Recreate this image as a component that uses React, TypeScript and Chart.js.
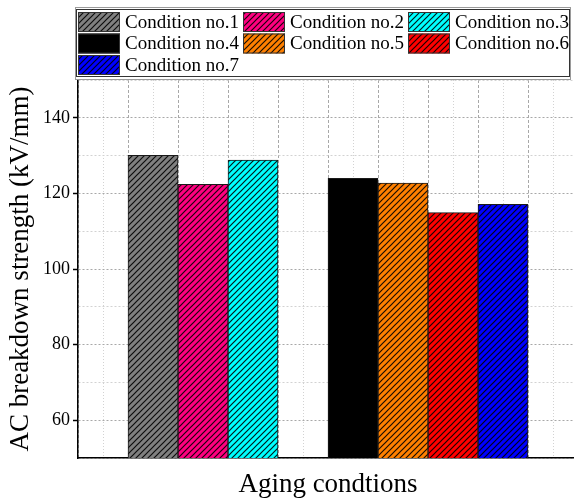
import React, { useEffect, useRef } from 'react';
import { Chart, registerables } from 'chart.js';

Chart.register(...registerables);

const categories = [
  'Condition no.1',
  'Condition no.2',
  'Condition no.3',
  'Condition no.4',
  'Condition no.5',
  'Condition no.6',
  'Condition no.7',
];
// slot index on the x axis (two groups with an empty slot between them)
const slotIndex = [1.5, 2.5, 3.5, 5.5, 6.5, 7.5, 8.5];
const strengthValues = [130.1, 122.4, 128.8, 124.0, 122.7, 114.9, 117.1];
const barColors = ['#808080', '#FF0080', '#00FFFF', '#000000', '#FF8000', '#FF0000', '#0000FF'];
const yTickLabels = [60, 80, 100, 120, 140];

const SERIF = "'Liberation Serif', 'Times New Roman', serif";

function makeHatch(color: string): CanvasPattern | string {
  const s = 6;
  const c = document.createElement('canvas');
  c.width = s;
  c.height = s;
  const g = c.getContext('2d');
  if (!g) return color;
  g.fillStyle = color;
  g.fillRect(0, 0, s, s);
  g.strokeStyle = 'rgba(0,0,0,0.9)';
  g.lineWidth = 1.2;
  g.beginPath();
  g.moveTo(0, s);
  g.lineTo(s, 0);
  g.moveTo(-1, 1);
  g.lineTo(1, -1);
  g.moveTo(s - 1, s + 1);
  g.lineTo(s + 1, s - 1);
  g.stroke();
  return g.createPattern(c, 'repeat') || color;
}

const gridLegend = {
  id: 'gridLegend',
  afterDraw(chart: any) {
    const ctx = chart.ctx as CanvasRenderingContext2D;
    ctx.save();
    // frame with light shadow
    ctx.strokeStyle = '#9a9a9a';
    ctx.lineWidth = 1;
    ctx.strokeRect(75.5, 7.5, 495, 72);
    ctx.strokeStyle = '#333';
    ctx.strokeRect(76.5, 9.5, 493, 67);
    chart.data.datasets.forEach((ds: any, i: number) => {
      const col = i % 3;
      const row = Math.floor(i / 3);
      const x = 78 + col * 165;
      const y = 12 + row * 21.5;
      ctx.fillStyle = ds.backgroundColor;
      ctx.fillRect(x, y, 42, 20);
      ctx.strokeStyle = '#333';
      ctx.lineWidth = 1;
      ctx.strokeRect(x + 0.5, y + 0.5, 41, 19);
      ctx.fillStyle = '#000';
      ctx.font = `19px ${SERIF}`;
      ctx.textBaseline = 'middle';
      ctx.textAlign = 'left';
      ctx.fillText(ds.label, x + 47, y + 11);
    });
    ctx.restore();
  },
};

export default function App() {
  const ref = useRef<HTMLCanvasElement | null>(null);

  useEffect(() => {
    if (!ref.current) return;
    const patterns = barColors.map((c) => makeHatch(c));
    const datasets = categories.map((label, i) => ({
      label,
      data: [{ x: slotIndex[i], y: strengthValues[i] }],
      backgroundColor: patterns[i] as any,
      borderColor: '#1a1a1a',
      borderWidth: 1,
      grouped: false,
      categoryPercentage: 1,
      barPercentage: 1,
    }));

    const isMajor = (c: any) => c && c.tick && Math.round(c.tick.value) % 20 === 0;

    const chart = new Chart(ref.current, {
      type: 'bar',
      data: { datasets },
      plugins: [gridLegend],
      options: {
        responsive: false,
        animation: false,
        layout: { padding: { top: 80, right: 22, left: 0, bottom: 0 } },
        plugins: { legend: { display: false }, tooltip: { enabled: false } },
        scales: {
          x: {
            type: 'linear',
            min: 0,
            max: 10,
            offset: false,
            position: 'bottom',
            ticks: { display: false, stepSize: 1 },
            grid: { color: '#a8a8a8', drawTicks: false, offset: false },
            border: { display: true, color: '#000', width: 1.5, dash: [3, 2] },
            title: {
              display: true,
              text: 'Aging condtions',
              font: { family: SERIF, size: 27 },
              color: '#000',
              padding: 0,
            },
            afterFit: (s: any) => {
              s.height = 43;
            },
          },
          xMinor: {
            type: 'linear',
            min: 0,
            max: 10,
            offset: false,
            position: 'top',
            ticks: { display: false, stepSize: 0.5 },
            afterBuildTicks: (s: any) => {
              s.ticks = s.ticks.filter((t: any) => Math.abs((t.value % 1) - 0.5) < 1e-6);
            },
            grid: { color: '#d2d2d2', drawTicks: false, offset: false },
            border: { display: false, dash: [1, 2] },
            afterFit: (s: any) => {
              s.height = 0;
            },
          },
          y: {
            type: 'linear',
            min: 50,
            max: 150,
            ticks: {
              stepSize: 10,
              color: '#000',
              padding: 3,
              font: { family: SERIF, size: 18 },
              callback: (v: any) => (yTickLabels.includes(Number(v)) ? String(v) : ''),
            },
            grid: {
              color: (c: any) => (isMajor(c) ? '#a8a8a8' : '#d2d2d2'),
              tickLength: 5,
              tickWidth: 1.5,
              tickColor: (c: any) => (isMajor(c) ? '#000' : 'rgba(0,0,0,0)'),
            },
            border: { color: '#000', width: 1.5, dash: [2, 2] },
            title: {
              display: true,
              text: 'AC breakdown strength (kV/mm)',
              font: { family: SERIF, size: 27 },
              color: '#000',
              padding: { top: 5, bottom: 0 },
            },
            afterFit: (s: any) => {
              s.width = 78;
            },
          },
        },
      } as any,
    });
    return () => chart.destroy();
  }, []);

  return (
    <div
      style={{
        position: 'absolute',
        left: 0,
        top: 0,
        width: 574,
        height: 501,
        overflow: 'hidden',
        background: '#fff',
      }}
    >
      <canvas ref={ref} width={600} height={501} style={{ display: 'block' }} />
    </div>
  );
}
